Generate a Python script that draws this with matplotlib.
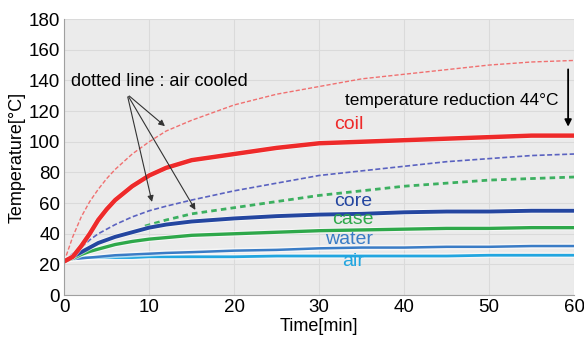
import matplotlib.pyplot as plt
import matplotlib.patheffects as pe

plt.rcParams['font.family'] = ['Liberation Sans', 'DejaVu Sans']

# time points [min] and temperatures [degC]
t = [0, 1, 2, 3, 4, 5, 6, 8, 10, 12, 15, 20, 25, 30, 35, 40, 45, 50, 55, 60]
coil = [22, 25, 32, 40, 49, 56, 62, 71, 78, 83, 88, 92, 96, 99, 100, 101, 102, 103, 104, 104]
core = [22, 25, 28, 31, 34, 36, 38, 41, 44, 46, 48, 50, 51.5, 52.5, 53, 54, 54.5, 54.5, 55, 55]
case = [22, 24, 26.5, 28.5, 30, 31.5, 33, 35, 36.5, 37.5, 39, 40, 41, 42, 42.5, 43, 43.5, 43.5, 44, 44]
water = [23, 23.5, 24, 24.5, 25, 25.5, 26, 26.5, 27, 27.5, 28, 29, 29.5, 30.5, 31, 31, 31.5, 31.5, 32, 32]
air = [23, 24, 24.5, 24.5, 24.5, 24.5, 24.5, 24.5, 25, 25, 25, 25, 25.5, 25.5, 25.5, 25.5, 25.5, 26, 26, 26]

coil_air = [22, 38, 51, 61, 69, 76, 82, 92, 100, 107, 114, 124, 131, 136, 141, 144, 147, 150, 152, 153]
core_air = [22, 27, 31, 36, 40, 43, 46, 51, 55, 58, 62, 68, 73, 78, 81, 84, 87, 89, 91, 92]
t_case_air = [9.5, 12, 15, 20, 25, 30, 35, 40, 45, 50, 55, 60]
case_air = [45, 49, 53, 57, 61, 65, 68, 71, 73, 75, 76, 77]

fig, ax = plt.subplots(figsize=(5.84, 3.40), dpi=100)
fig.subplots_adjust(left=0.11, right=0.983, top=0.944, bottom=0.132)
ax.set_facecolor('#ebebeb')
ax.grid(True, color='#dadada', linewidth=0.8)
ax.set_axisbelow(True)

halo = [pe.Stroke(linewidth=4, foreground='white', alpha=0.6), pe.Normal()]

ax.plot(t, coil_air, color='#f07070', linestyle=(0, (3, 1.5)), linewidth=1.0)
ax.plot(t, core_air, color='#5a62c0', linestyle=(0, (3, 1.5)), linewidth=1.2)
ax.plot(t_case_air, case_air, color='#3cb060', linestyle=(0, (2, 1.5)), linewidth=2.0)

ax.plot(t, air, color='#22a6e0', linewidth=2.0, path_effects=halo)
ax.plot(t, water, color='#3a7cc6', linewidth=1.8, path_effects=halo)
ax.plot(t, case, color='#2ea84a', linewidth=2.4, path_effects=halo)
ax.plot(t, core, color='#2446a0', linewidth=2.8, path_effects=halo)
ax.plot(t, coil, color='#ee2a2a', linewidth=3.2, path_effects=halo)

ax.set_xlim(0, 60)
ax.set_ylim(0, 180)
ax.set_xticks(range(0, 61, 10))
ax.set_yticks(range(0, 181, 20))
ax.tick_params(labelsize=13.5, length=0, pad=3)
for s in ['top', 'right']:
    ax.spines[s].set_visible(False)
for s in ['left', 'bottom']:
    ax.spines[s].set_color('#a0a0a0')
ax.set_xlabel('Time[min]', fontsize=13, labelpad=1)
ax.set_ylabel('Temperature[°C]', fontsize=13, labelpad=2)

ax.text(33.5, 111, 'coil', color='#ee2a2a', fontsize=14, ha='center', va='center')
ax.text(34, 61, 'core', color='#2446a0', fontsize=14, ha='center', va='center')
ax.text(34, 49, 'case', color='#2ea84a', fontsize=14, ha='center', va='center')
ax.text(33.5, 36, 'water', color='#3a7cc6', fontsize=14, ha='center', va='center')
ax.text(34, 22, 'air', color='#22a6e0', fontsize=14, ha='center', va='center')

ax.text(33, 127, 'temperature reduction 44°C', fontsize=12.5, ha='left', va='center')
ax.annotate('', xy=(59.3, 108), xytext=(59.3, 149),
            arrowprops=dict(arrowstyle='-|>', color='black', lw=1.3, mutation_scale=10))

ax.text(0.8, 139, 'dotted line : air cooled', fontsize=13, ha='left', va='center')
for xy in [(12.1, 109), (10.4, 59), (15.6, 54)]:
    ax.annotate('', xy=xy, xytext=(7.4, 131),
                arrowprops=dict(arrowstyle='-|>', color='#333333', lw=0.8, mutation_scale=9))

fig.savefig('out.png', dpi=100)
